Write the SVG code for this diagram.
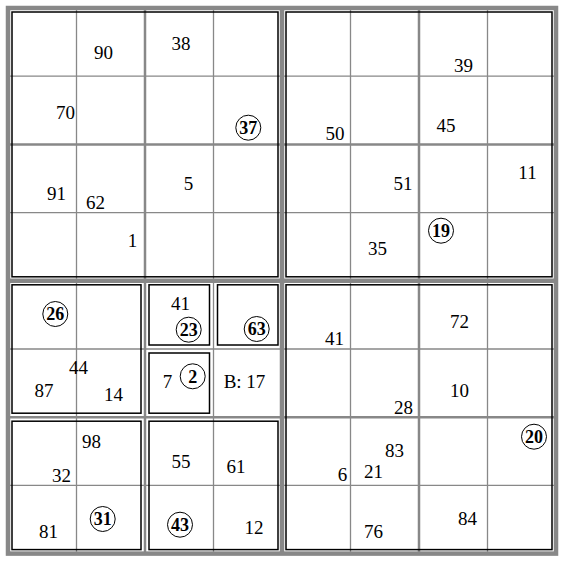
<svg xmlns="http://www.w3.org/2000/svg" width="564" height="562" viewBox="0 0 564 562">
<style>
.thin{stroke:#888;stroke-width:1.3;fill:none}
.med{stroke:#888;stroke-width:2.5;fill:none}
.thick{stroke:#888;stroke-width:4.5;fill:none}
.box{stroke:#000;stroke-width:1.5;fill:none}
text{font-family:"Liberation Serif","Times New Roman",serif;font-size:19px;fill:#000;text-anchor:middle}
.c text{font-weight:bold;font-size:18px}
.c circle{fill:none;stroke:#000;stroke-width:1}
</style>
<rect width="564" height="562" fill="#fff"/>
<g id="grid">
<path class="thin" d="M76.5 8V553.6M213.5 8V553.6M350.5 8V553.6M487.5 8V553.6M8 76.2H556M8 212.6H556M8 349H556M8 485.4H556"/>
<path class="med" d="M145 8V553.6M419 8V553.6M8 144.4H556M8 417.2H556"/>
<path class="thick" d="M282 8V553.6M8 280.8H556"/>
<rect class="thick" x="8" y="8" width="548" height="545.6"/>
</g>
<g id="boxes">
<rect class="box" x="12" y="12" width="266" height="264.8"/>
<rect class="box" x="286" y="12" width="266" height="264.8"/>
<rect class="box" x="286" y="284.8" width="266" height="264.8"/>
<rect class="box" x="12" y="284.8" width="129" height="128.4"/>
<rect class="box" x="149" y="284.8" width="60.5" height="60.2"/>
<rect class="box" x="217.5" y="284.8" width="60.5" height="60.2"/>
<rect class="box" x="149" y="353" width="60.5" height="60.2"/>
<rect class="box" x="12" y="421.2" width="129" height="128.4"/>
<rect class="box" x="149" y="421.2" width="129" height="128.4"/>
</g>
<g id="numbers">
<text x="103.5" y="58.5">90</text>
<text x="181" y="50">38</text>
<text x="65.5" y="119">70</text>
<text x="56.5" y="199.5">91</text>
<text x="95.5" y="208.5">62</text>
<text x="188.5" y="190">5</text>
<text x="132.5" y="246.5">1</text>
<text x="463.5" y="71.5">39</text>
<text x="335" y="139.5">50</text>
<text x="446" y="131.5">45</text>
<text x="403" y="190">51</text>
<text x="527.5" y="178.5">11</text>
<text x="377.5" y="255">35</text>
<text x="78.5" y="374">44</text>
<text x="44" y="396.5">87</text>
<text x="113.5" y="400.5">14</text>
<text x="180.5" y="310">41</text>
<text x="167.5" y="387.5">7</text>
<text x="244.5" y="387.5">B: 17</text>
<text x="91.5" y="447.5">98</text>
<text x="61.5" y="481.5">32</text>
<text x="181" y="468">55</text>
<text x="236" y="473">61</text>
<text x="48.5" y="537.5">81</text>
<text x="254" y="533.5">12</text>
<text x="334.5" y="344.5">41</text>
<text x="459.5" y="327.5">72</text>
<text x="403.5" y="413.5">28</text>
<text x="459.5" y="396.5">10</text>
<text x="394.5" y="456.5">83</text>
<text x="342.5" y="480.5">6</text>
<text x="373.5" y="477.5">21</text>
<text x="467.5" y="524.5">84</text>
<text x="373.5" y="537.5">76</text>
</g>
<g id="circled" class="c">
<g id="c37"><circle cx="248.3" cy="127.7" r="12.5"/><text x="248.3" y="134">37</text></g>
<g id="c19"><circle cx="441" cy="230.7" r="12.5"/><text x="441" y="237">19</text></g>
<g id="c26"><circle cx="55.3" cy="314" r="12.5"/><text x="55.3" y="320.3">26</text></g>
<g id="c23"><circle cx="188.7" cy="329.7" r="12.5"/><text x="188.7" y="336">23</text></g>
<g id="c63"><circle cx="256.7" cy="329" r="12.5"/><text x="256.7" y="335.3">63</text></g>
<g id="c2"><circle cx="192.7" cy="376.3" r="12.5"/><text x="192.7" y="382.6">2</text></g>
<g id="c31"><circle cx="102.7" cy="519" r="12.5"/><text x="102.7" y="525.3">31</text></g>
<g id="c43"><circle cx="180" cy="524.7" r="12.5"/><text x="180" y="531">43</text></g>
<g id="c20"><circle cx="534" cy="436.7" r="12.5"/><text x="534" y="443">20</text></g>
</g>
</svg>
